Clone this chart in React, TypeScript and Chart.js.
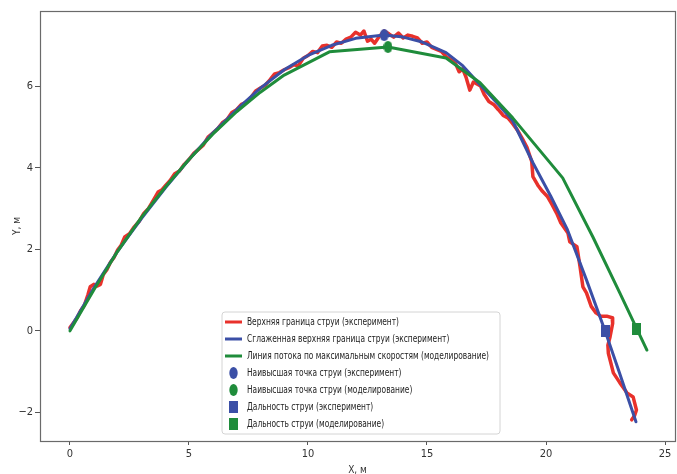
import { useEffect, useRef } from "react";
import { Chart, registerables } from "chart.js";

Chart.register(...registerables);

// ---------- data ----------
const redX = [0.0, 0.15, 0.3, 0.45, 0.6, 0.75, 0.85, 1.0, 1.15, 1.28, 1.4, 1.55, 1.7, 1.85, 2.0, 2.15, 2.3, 2.5, 2.7, 2.9, 3.1, 3.3, 3.5, 3.7, 3.85, 4.0, 4.2, 4.4, 4.6, 4.8, 5.0, 5.2, 5.4, 5.6, 5.8, 6.0, 6.2, 6.4, 6.6, 6.8, 7.0, 7.2, 7.4, 7.6, 7.8, 8.0, 8.2, 8.4, 8.6, 8.8, 9.0, 9.2, 9.4, 9.6, 9.8, 10.0, 10.2, 10.4, 10.6, 10.8, 11.0, 11.2, 11.4, 11.6, 11.8, 12.0, 12.2, 12.35, 12.5, 12.65, 12.8, 13.0, 13.2, 13.4, 13.6, 13.8, 14.0, 14.2, 14.4, 14.6, 14.8, 15.0, 15.2, 15.4, 15.6, 15.8, 16.0, 16.2, 16.35, 16.5, 16.65, 16.8, 16.95, 17.1, 17.25, 17.4, 17.6, 17.8, 18.0, 18.2, 18.4, 18.6, 18.8, 19.0, 19.2, 19.4, 19.45, 19.68, 19.85, 20.05, 20.25, 20.45, 20.62, 20.92, 21.0, 21.3, 21.43, 21.55, 21.7, 21.9, 22.1, 22.3, 22.55, 22.78, 22.8, 22.69, 22.6, 22.62, 22.83, 23.1, 23.4, 23.66, 23.8, 23.72, 23.6];
const redY = [0.08, 0.2, 0.32, 0.5, 0.62, 0.88, 1.08, 1.14, 1.1, 1.14, 1.38, 1.5, 1.68, 1.8, 1.98, 2.1, 2.3, 2.38, 2.55, 2.68, 2.88, 3.0, 3.2, 3.4, 3.45, 3.55, 3.68, 3.85, 3.92, 4.08, 4.2, 4.35, 4.45, 4.55, 4.75, 4.85, 4.95, 5.1, 5.18, 5.35, 5.42, 5.55, 5.6, 5.72, 5.88, 5.95, 6.02, 6.15, 6.3, 6.33, 6.4, 6.45, 6.52, 6.5, 6.68, 6.75, 6.85, 6.82, 6.98, 7.0, 6.95, 7.08, 7.05, 7.15, 7.2, 7.32, 7.25, 7.35, 7.1, 7.15, 7.05, 7.22, 7.35, 7.28, 7.2, 7.3, 7.18, 7.25, 7.22, 7.18, 7.05, 7.08, 6.95, 6.9, 6.85, 6.72, 6.65, 6.55, 6.35, 6.42, 6.2, 5.9, 6.1, 6.05, 6.0, 5.8, 5.62, 5.55, 5.42, 5.28, 5.22, 5.08, 4.92, 4.72, 4.5, 4.15, 3.78, 3.55, 3.42, 3.3, 3.1, 2.88, 2.65, 2.4, 2.18, 2.06, 1.57, 1.08, 0.93, 0.6, 0.44, 0.36, 0.36, 0.32, 0.18, -0.15, -0.35, -0.55, -1.03, -1.27, -1.52, -1.62, -1.94, -2.08, -2.18];

const blueX = [0.0, 0.5, 1.0, 1.5, 2.0, 2.5, 3.0, 4.0, 5.0, 6.0, 7.0, 8.0, 9.0, 10.0, 11.0, 12.0, 13.2, 14.0, 14.8, 15.8, 16.5, 17.2, 18.0, 18.6, 19.45, 20.2, 20.9, 21.7, 22.48, 23.1, 23.78];
const blueY = [0.05, 0.55, 1.05, 1.5, 1.95, 2.35, 2.75, 3.5, 4.2, 4.85, 5.42, 5.95, 6.4, 6.75, 7.0, 7.17, 7.25, 7.2, 7.08, 6.82, 6.5, 6.05, 5.55, 5.15, 4.12, 3.3, 2.48, 1.25, 0.0, -1.05, -2.23];

const greenX = [0, 1, 2, 3, 4, 5, 6, 7, 8, 9, 10.9, 13.36, 15.8, 17.23, 18.6, 20.7, 21.97, 23.1, 24.24];
const greenY = [0, 1.0, 1.95, 2.78, 3.52, 4.2, 4.82, 5.37, 5.85, 6.27, 6.84, 6.96, 6.69, 6.08, 5.22, 3.75, 2.3, 0.93, -0.47];

const peakExp = { x: 13.2, y: 7.25 };
const peakModel = { x: 13.36, y: 6.96 };
const rangeExp = { x: 22.48, y: 0.0 };
const rangeModel = { x: 23.8, y: 0.05 };

const xTicks = [0, 5, 10, 15, 20, 25];
const xTickLabels = ["0", "5", "10", "15", "20", "25"];
const yTicks = [-2, 0, 2, 4, 6];
const yTickLabels = ["\u22122", "0", "2", "4", "6"];

const legendLabels = [
  "Верхняя граница струи (эксперимент)",
  "Сглаженная верхняя граница струи (эксперимент)",
  "Линия потока по максимальным скоростям (моделирование)",
  "Наивысшая точка струи (эксперимент)",
  "Наивысшая точка струи (моделирование)",
  "Дальность струи (эксперимент)",
  "Дальность струи (моделирование)",
];

const RED = "#e8312b";
const BLUE = "#3b4fa6";
const GREEN = "#1f8c3b";
const FONT = '"Liberation Sans Narrow", "DejaVu Sans Condensed", "Liberation Sans", sans-serif';

const zip = (xs: number[], ys: number[]) => xs.map((x, i) => ({ x, y: ys[i] }));

function markerCanvas(color: string, kind: "ellipse" | "rect", w: number, h: number) {
  const c = document.createElement("canvas");
  c.width = w;
  c.height = h;
  const g = c.getContext("2d")!;
  g.fillStyle = color;
  if (kind === "ellipse") {
    g.beginPath();
    g.ellipse(w / 2, h / 2, w / 2, h / 2, 0, 0, Math.PI * 2);
    g.fill();
  } else {
    g.fillRect(0, 0, w, h);
  }
  return c;
}

const framePlugin = {
  id: "frame",
  beforeDatasetsDraw(chart: any) {
    const { ctx, chartArea: a } = chart;
    ctx.save();
    ctx.strokeStyle = "#6a6a6a";
    ctx.lineWidth = 1.2;
    ctx.strokeRect(a.left + 0.5, a.top + 0.5, a.right - a.left, a.bottom - a.top);
    ctx.restore();
  },
};

const legendPlugin = {
  id: "customLegend",
  afterDatasetsDraw(chart: any) {
    const ctx: CanvasRenderingContext2D = chart.ctx;
    const bx = 222, by = 312, bw = 278, bh = 122, r = 3;
    ctx.save();
    ctx.beginPath();
    ctx.moveTo(bx + r, by);
    ctx.arcTo(bx + bw, by, bx + bw, by + bh, r);
    ctx.arcTo(bx + bw, by + bh, bx, by + bh, r);
    ctx.arcTo(bx, by + bh, bx, by, r);
    ctx.arcTo(bx, by, bx + bw, by, r);
    ctx.closePath();
    ctx.fillStyle = "rgba(255,255,255,0.85)";
    ctx.fill();
    ctx.strokeStyle = "#d4d4d4";
    ctx.lineWidth = 1;
    ctx.stroke();

    ctx.font = `11px ${FONT}`;
    ctx.textBaseline = "middle";
    ctx.fillStyle = "#222";
    const longest = Math.max(...legendLabels.map((t) => ctx.measureText(t).width));
    const sx = Math.min(1, 242 / longest);
    const colors = [RED, BLUE, GREEN, BLUE, GREEN, BLUE, GREEN];
    legendLabels.forEach((t, i) => {
      const y = 322 + i * 17;
      const col = colors[i];
      if (i < 3) {
        ctx.strokeStyle = col;
        ctx.lineWidth = 3;
        ctx.beginPath();
        ctx.moveTo(225, y);
        ctx.lineTo(242, y);
        ctx.stroke();
      } else if (i < 5) {
        ctx.fillStyle = col;
        ctx.beginPath();
        ctx.ellipse(233.5, y, 4.2, 6, 0, 0, Math.PI * 2);
        ctx.fill();
      } else {
        ctx.fillStyle = col;
        ctx.fillRect(229, y - 6, 9, 12);
      }
      ctx.fillStyle = "#222";
      ctx.save();
      ctx.translate(247, y);
      ctx.scale(sx, 1);
      ctx.fillText(t, 0, 0);
      ctx.restore();
    });
    ctx.restore();
  },
};

export default function App() {
  const ref = useRef<HTMLCanvasElement>(null);

  useEffect(() => {
    document.body.style.margin = "0";
    const canvas = ref.current!;
    const circB = markerCanvas(BLUE, "ellipse", 9, 12);
    const circG = markerCanvas(GREEN, "ellipse", 9, 12);
    const sqB = markerCanvas(BLUE, "rect", 9, 12);
    const sqG = markerCanvas(GREEN, "rect", 9, 12);

    const lineDs = (label: string, data: any[], color: string, width: number, order: number) => ({
      label,
      data,
      showLine: true,
      borderColor: color,
      backgroundColor: color,
      borderWidth: width,
      borderJoinStyle: "round" as const,
      borderCapStyle: "round" as const,
      pointRadius: 0,
      tension: 0,
      order,
    });
    const markDs = (label: string, pt: any, style: any, order: number) => ({
      label,
      data: [pt],
      showLine: false,
      pointStyle: style,
      pointRadius: 6,
      order,
    });

    const chart = new Chart(canvas, {
      type: "scatter",
      data: {
        datasets: [
          lineDs(legendLabels[0], zip(redX, redY), RED, 3.5, 5),
          lineDs(legendLabels[1], zip(blueX, blueY), BLUE, 3, 4),
          lineDs(legendLabels[2], zip(greenX, greenY), GREEN, 3, 3),
          markDs(legendLabels[3], peakExp, circB, 1),
          markDs(legendLabels[4], peakModel, circG, 1),
          markDs(legendLabels[5], rangeExp, sqB, 0),
          markDs(legendLabels[6], rangeModel, sqG, 0),
        ] as any,
      },
      options: {
        animation: false,
        responsive: false,
        maintainAspectRatio: false,
        layout: { autoPadding: false, padding: { top: 11, right: 2, left: 0, bottom: 0 } },
        plugins: {
          legend: { display: false },
          tooltip: { enabled: false },
        },
        scales: {
          x: {
            type: "linear",
            min: -1.26,
            max: 25.42,
            afterBuildTicks: (s: any) => {
              s.ticks = xTicks.map((v) => ({ value: v }));
            },
            afterFit: (s: any) => {
              s.height = 33;
              s.paddingLeft = 0;
              s.paddingRight = 0;
            },
            border: { display: false },
            grid: { display: true, drawOnChartArea: false, drawTicks: true, tickLength: 4, color: "#555", lineWidth: 1 },
            ticks: {
              color: "#333",
              padding: 3,
              font: { size: 11, family: FONT },
              maxRotation: 0,
              callback: (v: any) => {
                const i = xTicks.indexOf(Number(v));
                return i >= 0 ? xTickLabels[i] : "";
              },
            },
            title: {
              display: true,
              text: "X, м",
              color: "#333",
              font: { size: 10, family: FONT, lineHeight: 1 },
              padding: { top: 0, bottom: -1 },
            },
          },
          y: {
            type: "linear",
            min: -2.7,
            max: 7.84,
            afterBuildTicks: (s: any) => {
              s.ticks = yTicks.map((v) => ({ value: v }));
            },
            afterFit: (s: any) => {
              s.width = 40;
              s.paddingTop = 0;
              s.paddingBottom = 0;
            },
            border: { display: false },
            grid: { display: true, drawOnChartArea: false, drawTicks: true, tickLength: 5, color: "#555", lineWidth: 1 },
            ticks: {
              color: "#333",
              padding: 2,
              font: { size: 11, family: FONT },
              callback: (v: any) => {
                const i = yTicks.indexOf(Number(v));
                return i >= 0 ? yTickLabels[i] : "";
              },
            },
            title: {
              display: true,
              text: "Y, м",
              color: "#333",
              font: { size: 10, family: FONT, lineHeight: 1 },
              padding: { top: 12, bottom: 0 },
            },
          },
        },
      },
      plugins: [framePlugin, legendPlugin],
    });
    return () => chart.destroy();
  }, []);

  return (
    <div style={{ position: "absolute", left: 0, top: 0, width: 677, height: 474 }}>
      <canvas ref={ref} width={677} height={474} style={{ display: "block" }} />
    </div>
  );
}
